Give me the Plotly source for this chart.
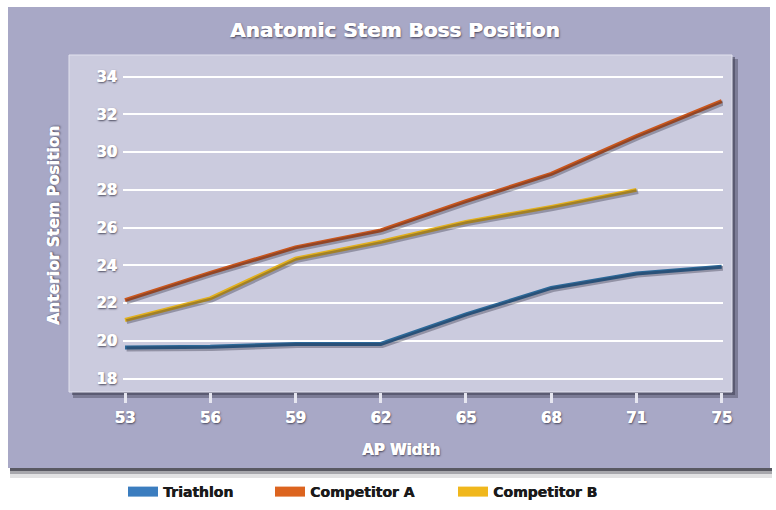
import plotly.graph_objects as go

# ---------------- data ----------------
ap_width = ["53", "56", "59", "62", "65", "68", "71", "75"]
triathlon = [19.65, 19.68, 19.83, 19.83, 21.4, 22.8, 23.57, 23.93]
competitor_a = [22.15, 23.6, 24.95, 25.85, 27.4, 28.85, 30.85, 32.7]
competitor_b = [21.1, 22.25, 24.35, 25.25, 26.3, 27.1, 28.0, None]
y_ticks = [18, 20, 22, 24, 26, 28, 30, 32, 34]

series_names = ["Triathlon", "Competitor A", "Competitor B"]
line_colors = ["#2c6898", "#c9561c", "#e2b01e"]
swatch_colors = ["#3b7dbf", "#dc641f", "#f0b71c"]

# ---------------- layout geometry (pixels) ----------------
W, H = 776, 510
L, R, T, B = 123, 53, 60, 118
PW, PH = W - L - R, H - T - B
PLOT_BOTTOM = H - B


def px(x):
    return (x - L) / PW


def py(y):
    return (PLOT_BOTTOM - y) / PH


FONT = "DejaVu Sans"
SHADOW = "0.6px 0 0 #ffffff, 1px 1px 2px rgba(40,40,60,0.8)"
LEG_SHADOW = "0.5px 0 0 #1a1a1a"

fig = go.Figure()

# shadow copies drawn on an overlay axis shifted a couple of pixels
for vals, name in zip([triathlon, competitor_a, competitor_b], series_names):
    fig.add_trace(go.Scatter(
        x=ap_width, y=vals, mode="lines", xaxis="x2", yaxis="y2",
        line=dict(color="rgba(40,40,60,0.35)", width=5),
        showlegend=False, hoverinfo="skip"))

for vals, name, col in zip([triathlon, competitor_a, competitor_b], series_names, line_colors):
    fig.add_trace(go.Scatter(
        x=ap_width, y=vals, mode="lines", name=name,
        line=dict(color=col, width=4), showlegend=False))

# legend entries (thick swatches), one legend each for exact placement
legend_ids = ["legend", "legend2", "legend3"]
for name, col, lid in zip(series_names, swatch_colors, legend_ids):
    fig.add_trace(go.Scatter(
        x=[None], y=[None], mode="lines", name=name,
        line=dict(color=col, width=10), legend=lid, showlegend=True))

# x range so that 53 -> 125px, 75 -> 721.7px
step = (721.7 - 125) / 7
xr = [(L - 125) / step, (L + PW - 125) / step]
# y range: 18 -> 378.5px, 34 -> 76.7px
upx = (378.5 - 76.7) / 16
yr = [18 - (PLOT_BOTTOM - 378.5) / upx, 18 + (378.5 - T) / upx]
sh = 1.6  # shadow offset in px
xr2 = [xr[0] - sh / step, xr[1] - sh / step]
yr2 = [yr[0] + sh / upx, yr[1] + sh / upx]

tick_font = dict(family=FONT, size=15, color="white", weight="bold", shadow=SHADOW)

shapes = [
    # outer panel shadow
    dict(type="rect", xref="paper", yref="paper", x0=px(10), x1=px(772), y0=py(468), y1=py(471),
         fillcolor="rgba(60,60,70,0.85)", line_width=0, layer="below"),
    dict(type="rect", xref="paper", yref="paper", x0=px(10), x1=px(772), y0=py(471), y1=py(474),
         fillcolor="rgba(60,60,70,0.45)", line_width=0, layer="below"),
    dict(type="rect", xref="paper", yref="paper", x0=px(10), x1=px(772), y0=py(474), y1=py(478),
         fillcolor="rgba(60,60,70,0.15)", line_width=0, layer="below"),
    # outer panel
    dict(type="rect", xref="paper", yref="paper", x0=px(8), x1=px(770), y0=py(468), y1=py(7),
         fillcolor="#a8a8c6", line_width=0, layer="below"),
    # inner panel shadow
    dict(type="rect", xref="paper", yref="paper", x0=px(73), x1=px(738), y0=py(398), y1=py(59),
         fillcolor="rgba(70,70,90,0.45)", line_width=0, layer="below"),
    dict(type="rect", xref="paper", yref="paper", x0=px(72), x1=px(735), y0=py(395), y1=py(57),
         fillcolor="rgba(70,70,90,0.6)", line_width=0, layer="below"),
    # inner panel
    dict(type="rect", xref="paper", yref="paper", x0=px(69), x1=px(732), y0=py(392), y1=py(55),
         fillcolor="#cbcbde", line=dict(color="#e2e2ee", width=1), layer="below"),
]

annotations = [
    dict(text="Anatomic Stem Boss Position", xref="paper", yref="paper", x=px(395), y=py(30),
         xanchor="center", yanchor="middle", showarrow=False,
         font=dict(family=FONT, size=20, color="white", weight="bold", shadow=SHADOW)),
    dict(text="AP Width", xref="paper", yref="paper", x=px(401), y=py(450),
         xanchor="center", yanchor="middle", showarrow=False,
         font=dict(family=FONT, size=15, color="white", weight="bold", shadow=SHADOW)),
    dict(text="Anterior Stem Position", xref="paper", yref="paper", x=px(54), y=py(226),
         xanchor="center", yanchor="middle", showarrow=False, textangle=-90,
         font=dict(family=FONT, size=15.5, color="white", weight="bold", shadow=SHADOW)),
]

legend_common = dict(orientation="h", xanchor="left", yanchor="middle", y=py(492),
                     bgcolor="rgba(0,0,0,0)", borderwidth=0,
                     font=dict(family=FONT, size=14, color="#1a1a1a", weight="bold",
                               shadow=LEG_SHADOW))
legend_x = [128, 275, 458]

fig.update_layout(
    width=W, height=H,
    margin=dict(l=L, r=R, t=T, b=B, pad=0, autoexpand=False),
    paper_bgcolor="white",
    plot_bgcolor="rgba(0,0,0,0)",
    showlegend=True,
    xaxis=dict(type="category", range=xr, showgrid=False, zeroline=False, showline=False,
               ticks="outside", ticklen=10, tickwidth=3, tickcolor="#e6e6f0",
               tickfont=tick_font, ticklabelstandoff=2, fixedrange=True, automargin=False),
    yaxis=dict(range=yr, tickvals=y_ticks, showgrid=True, gridcolor="white", gridwidth=2,
               zeroline=False, showline=False, ticks="", tickfont=tick_font,
               ticklabelstandoff=5, fixedrange=True, automargin=False),
    xaxis2=dict(type="category", range=xr2, overlaying="x", visible=False),
    yaxis2=dict(range=yr2, overlaying="y", visible=False),
    shapes=shapes,
    annotations=annotations,
    legend=dict(x=px(legend_x[0] - 5), **legend_common),
    legend2=dict(x=px(legend_x[1] - 5), **legend_common),
    legend3=dict(x=px(legend_x[2] - 5), **legend_common),
)

fig.write_html("out.html", config={"displayModeBar": False},
               post_script="document.body.style.margin='0';")
